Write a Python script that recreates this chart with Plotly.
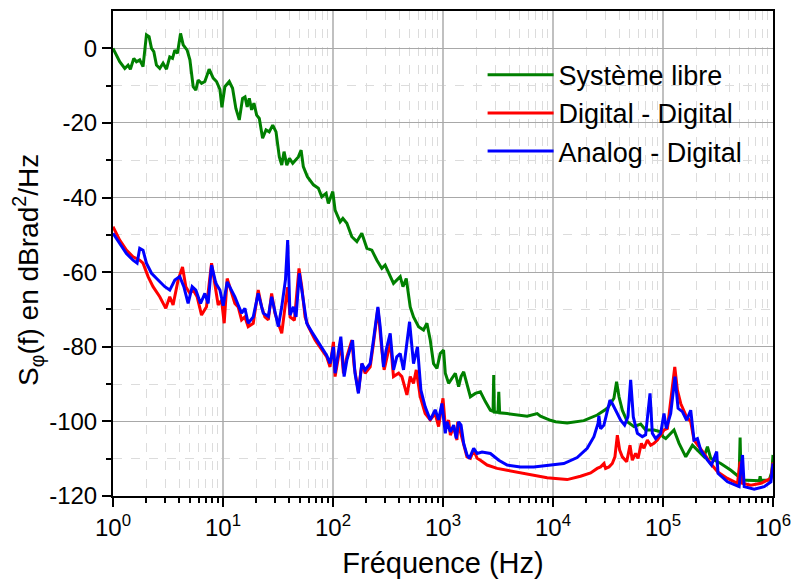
import numpy as np
import plotly.graph_objects as go

# ---- Data (frequency given as log10(Hz)) ----
libre_logf = [0, .061, .107, .137, .158, .189, .213, .243, .273, .304, .328, .35, .371, .395, .425, .455,
              .486, .516, .541, .562, .586, .614, .638, .674, .699, .729, .753, .774, .805, .835, .874, .911,
              .941, .972, .99, 1.017, 1.057, 1.087, 1.117, 1.148, 1.178, 1.2, 1.22, 1.239, 1.26, 1.281, 1.306,
              1.33, 1.36, 1.391, 1.42, 1.452, 1.482, 1.512, 1.534, 1.555, 1.58, 1.604, 1.634, 1.664, 1.685,
              1.71, 1.73, 1.767, 1.822, 1.867, 1.898, 1.937, 1.958, 1.998, 2.019, 2.065, 2.09, 2.126, 2.171,
              2.217, 2.262, 2.308, 2.353, 2.399, 2.444, 2.474, 2.514, 2.55, 2.611, 2.636, 2.666, 2.702, 2.732,
              2.778, 2.823, 2.854, 2.884, 2.914, 2.945, 2.975, 3.005, 3.021, 3.051, 3.082, 3.112, 3.142, 3.164,
              3.188, 3.218, 3.249, 3.294, 3.34, 3.385, 3.431, 3.455, 3.461, 3.467, 3.5, 3.507, 3.515, 3.583,
              3.674, 3.765, 3.856, 3.886, 3.977, 4.023, 4.129, 4.28, 4.402, 4.494, 4.554, 4.578, 4.6, 4.63,
              4.676, 4.736, 4.797, 4.842, 4.918, 4.979, 5.0, 5.025, 5.1, 5.146, 5.207, 5.268, 5.313, 5.373,
              5.404, 5.434, 5.525, 5.617, 5.692, 5.701, 5.71, 5.799, 5.876, 5.883, 5.89, 5.966, 5.99, 6.0]
libre_db = [0, -3.6, -5.4, -4.5, -5.6, -2.7, -3.6, -3.1, -4.9, 3.6, 3.1, 0, -0.9, -4.5, -5.4, -4.0,
            -5.6, -2.3, -2.7, -0.5, -1.3, 4.0, 0.9, -0.5, -3.1, -10.3, -11.2, -8.5, -9.4, -8.9, -5.6, -8.0,
            -8.9, -11.0, -15.8, -10.3, -8.9, -10.7, -16.1, -19.2, -13.4, -13.0, -15.7, -13.4, -16.5, -14.7, -17.9,
            -18.8, -24.1, -21.9, -22.4, -20.6, -22.4, -29.1, -31.3, -27.7, -31.3, -29.5, -30.8, -29.9, -29.1,
            -27.3, -31.7, -34.4, -36.6, -37.5, -39.8, -38.9, -41.6, -38.4, -43.4, -46.5, -45.6, -46.9, -50.5,
            -51.8, -49.6, -53.6, -54.1, -56.8, -59.0, -58.1, -60.8, -63.0, -61.2, -63.9, -61.7, -69.3, -72.0,
            -74.6, -75.5, -73.7, -78.2, -84.5, -85.8, -81.8, -80.9, -87.1, -89.8, -88.5, -87.1, -90.7, -88.0,
            -86.7, -89.8, -93.4, -92.5, -92.1, -94.7, -97.0, -97.3, -87.6, -97.5, -97.6, -92.1, -97.7, -97.9,
            -98.3, -98.6, -97.9, -98.6, -99.7, -100.1, -100.4, -99.8, -98.3, -96.5, -93.8, -89.4, -93.4, -97.0,
            -100.1, -101.4, -100.7, -102.3, -102.3, -102.8, -104.1, -104.6, -102.3, -105.9, -109.5, -106.4, -107.7, -109.5,
            -106.8, -109.9, -111.3, -113.1, -114.9, -104.3, -115.7, -115.7, -115.9, -114.7, -115.8, -115.7, -113.5, -109.0]

dd_logf = [0, .061, .122, .182, .243, .273, .319, .364, .425, .48, .516, .546, .592, .632, .662, .699,
           .729, .765, .805, .85, .896, .926, .956, .987, 1.011, 1.038, 1.078, 1.108, 1.138, 1.169, 1.199,
           1.229, 1.275, 1.32, 1.351, 1.381, 1.412, 1.442, 1.472, 1.503, 1.534, 1.564, 1.588, 1.61, 1.649,
           1.691, 1.716, 1.746, 1.776, 1.837, 1.898, 1.943, 1.973, 2.004, 2.019, 2.071, 2.095, 2.126, 2.171,
           2.193, 2.231, 2.262, 2.292, 2.338, 2.368, 2.408, 2.444, 2.465, 2.505, 2.52, 2.55, 2.596, 2.626,
           2.672, 2.702, 2.732, 2.757, 2.793, 2.838, 2.884, 2.929, 2.96, 3.0, 3.021, 3.051, 3.067, 3.097,
           3.127, 3.134, 3.182, 3.218, 3.249, 3.279, 3.31, 3.34, 3.401, 3.492, 3.583, 3.704, 3.825, 3.947,
           4.023, 4.129, 4.25, 4.342, 4.402, 4.433, 4.463, 4.478, 4.509, 4.539, 4.563, 4.585, 4.606, 4.63,
           4.67, 4.7, 4.721, 4.751, 4.773, 4.803, 4.827, 4.858, 4.888, 4.918, 4.949, 4.994, 5.01, 5.04,
           5.07, 5.107, 5.131, 5.161, 5.207, 5.252, 5.282, 5.328, 5.373, 5.434, 5.495, 5.586, 5.677, 5.701,
           5.722, 5.799, 5.89, 5.981, 6.0]
dd_db = [-47.8, -51.4, -54.1, -55.9, -56.8, -57.6, -61.2, -63.9, -66.6, -69.7, -66.6, -68.8, -62.1, -58.6, -63.9, -65.7,
         -64.8, -66.6, -71.5, -69.3, -57.6, -63.9, -68.8, -67.5, -73.7, -61.7, -65.7, -68.4, -69.3, -72.8, -72.0,
         -74.6, -73.7, -64.8, -69.3, -72.0, -72.8, -65.7, -71.0, -73.7, -76.4, -69.3, -64.0, -72.0, -72.9,
         -59.0, -63.9, -72.0, -74.6, -78.2, -80.9, -82.7, -85.4, -78.7, -88.0, -79.0, -87.1, -82.7, -78.2,
         -85.4, -92.1, -84.5, -87.1, -85.4, -79.1, -69.7, -80.9, -86.2, -80.9, -78.2, -88.0, -87.1, -88.0,
         -92.9, -88.0, -89.8, -86.2, -93.4, -97.9, -99.6, -97.9, -101.4, -93.8, -101.4, -99.7, -103.7, -101.4,
         -105.0, -100.1, -105.5, -109.5, -109.9, -107.7, -109.9, -110.4, -111.7, -112.6, -113.1, -113.8, -114.4, -115.1,
         -115.3, -115.6, -114.7, -113.8, -112.6, -112.2, -111.3, -112.6, -112.2, -111.3, -109.5, -103.7, -107.7, -109.5,
         -110.8, -106.4, -110.4, -108.6, -109.9, -105.9, -107.2, -105.0, -106.4, -105.9, -105.0, -103.2, -102.3, -101.9,
         -94.3, -85.4, -91.6, -95.2, -98.3, -100.1, -105.0, -106.8, -108.6, -111.3, -113.5, -115.3, -116.6, -110.8,
         -116.6, -117.1, -116.6, -115.3, -111.0]

ad_logf = [0, .061, .122, .182, .219, .243, .273, .304, .35, .41, .471, .516, .562, .607, .644, .683,
           .72, .753, .796, .835, .865, .896, .935, .972, 1.002, 1.038, 1.078, 1.108, 1.138, 1.169, 1.199,
           1.229, 1.275, 1.32, 1.366, 1.412, 1.442, 1.472, 1.503, 1.534, 1.568, 1.588, 1.604, 1.609, 1.64,
           1.664, 1.694, 1.73, 1.761, 1.807, 1.852, 1.898, 1.943, 1.973, 2.004, 2.019, 2.071, 2.101, 2.126,
           2.178, 2.2, 2.231, 2.262, 2.292, 2.338, 2.368, 2.408, 2.429, 2.459, 2.483, 2.52, 2.55, 2.58,
           2.611, 2.641, 2.696, 2.732, 2.768, 2.799, 2.838, 2.884, 2.929, 2.96, 2.99, 3.021, 3.036, 3.067,
           3.097, 3.121, 3.142, 3.164, 3.188, 3.218, 3.24, 3.279, 3.31, 3.355, 3.431, 3.507, 3.583, 3.704,
           3.825, 3.947, 4.023, 4.098, 4.22, 4.311, 4.372, 4.41, 4.417, 4.433, 4.463, 4.494, 4.518, 4.539,
           4.569, 4.615, 4.651, 4.681, 4.706, 4.73, 4.767, 4.812, 4.842, 4.882, 4.903, 4.933, 4.979, 5.009,
           5.03, 5.07, 5.109, 5.137, 5.176, 5.215, 5.252, 5.282, 5.313, 5.343, 5.404, 5.44, 5.488, 5.5,
           5.586, 5.692, 5.723, 5.738, 5.829, 5.92, 5.981, 6.0]
ad_db = [-49.6, -52.3, -55.0, -56.8, -57.6, -53.6, -54.1, -57.6, -60.3, -62.1, -63.9, -64.8, -62.1, -61.2, -63.9, -68.4,
         -63.9, -64.8, -68.4, -65.7, -68.4, -58.1, -63.0, -64.8, -69.0, -62.6, -64.8, -66.6, -68.8, -71.0, -69.7,
         -73.7, -72.0, -65.7, -71.0, -71.9, -66.6, -71.0, -74.6, -69.3, -62.0, -51.4, -68.0, -71.5, -69.3,
         -72.0, -60.3, -67.5, -73.7, -76.0, -78.2, -80.4, -82.3, -84.5, -80.0, -87.1, -77.3, -88.0, -83.6,
         -78.2, -87.1, -92.5, -84.5, -86.2, -84.5, -78.2, -69.3, -74.6, -85.4, -80.9, -76.4, -86.2, -82.7,
         -81.8, -86.2, -73.3, -84.5, -80.0, -91.6, -96.1, -99.6, -96.9, -99.6, -95.2, -103.2, -100.1, -102.8,
         -101.0, -104.6, -100.1, -101.0, -105.9, -109.0, -109.9, -107.2, -108.6, -108.2, -108.6, -110.4, -111.7, -112.2,
         -112.2, -111.8, -111.5, -111.3, -109.7, -107.2, -104.1, -100.5, -98.5, -102.0, -101.0, -97.4, -94.3, -95.2,
         -97.0, -99.7, -101.0, -98.8, -88.9, -98.8, -103.2, -104.1, -103.6, -92.5, -103.2, -104.6, -103.2, -97.9,
         -101.9, -97.9, -88.0, -96.5, -97.4, -99.7, -97.0, -105.0, -104.6, -107.7, -110.4, -111.7, -108.1, -113.9,
         -116.2, -117.5, -109.0, -117.5, -118.2, -117.5, -116.2, -111.3]

series_names = ["Système libre", "Digital - Digital", "Analog - Digital"]
series_colors = ["#008000", "#ff0000", "#0000ff"]

x_tick_vals = [1, 10, 100, 1000, 10000, 100000, 1000000]
x_tick_text = ["10<sup>0</sup>", "10<sup>1</sup>", "10<sup>2</sup>", "10<sup>3</sup>",
               "10<sup>4</sup>", "10<sup>5</sup>", "10<sup>6</sup>"]
x_minor_vals = [m * d for d in [1, 10, 100, 1000, 10000, 100000] for m in range(2, 10)]
y_tick_vals = [-120, -100, -80, -60, -40, -20, 0]
y_tick_text = ["-120", "-100", "-80", "-60", "-40", "-20", "0"]
y_minor_vals = [-110, -90, -70, -50, -30, -10]
y_title = "S<sub>φ</sub>(f) en dBrad<sup>2</sup>/Hz"

FONT = "Liberation Sans, Arial, sans-serif"

fig = go.Figure()
for i, (lf, db) in enumerate([(libre_logf, libre_db), (dd_logf, dd_db), (ad_logf, ad_db)]):
    fig.add_trace(go.Scatter(
        x=10 ** np.array(lf), y=db, mode="lines", name=series_names[i],
        line=dict(color=series_colors[i], width=3)))

grid_minor = dict(showgrid=True, gridcolor="#dcdcdc", griddash="dash", gridwidth=1,
                  ticks="outside", ticklen=5, tickwidth=2, tickcolor="black")

fig.update_layout(
    width=793, height=579,
    margin=dict(l=113, r=20, t=11, b=83),
    paper_bgcolor="white", plot_bgcolor="white",
    font=dict(family=FONT, color="black"),
    showlegend=True,
    legend=dict(x=0.56, y=0.918, xanchor="left", yanchor="top",
                bgcolor="rgba(0,0,0,0)", font=dict(size=27, family=FONT),
                itemwidth=66, tracegroupgap=0),
    xaxis=dict(type="log", range=[0, 6], tickvals=x_tick_vals, ticktext=x_tick_text,
               ticks="outside", ticklen=9, tickwidth=2, tickcolor="black",
               showline=True, linecolor="black", linewidth=2, mirror=True,
               showgrid=True, gridcolor="#c0c0c0", gridwidth=1.5,
               minor=dict(tickvals=x_minor_vals, **grid_minor),
               tickfont=dict(size=24, family=FONT), automargin=False,
               title=dict(text="Fréquence (Hz)", font=dict(size=29, family=FONT), standoff=14),
               zeroline=False),
    yaxis=dict(range=[-120, 10], tickvals=y_tick_vals, ticktext=y_tick_text,
               ticks="outside", ticklen=9, tickwidth=2, tickcolor="black",
               showline=True, linecolor="black", linewidth=2, mirror=True,
               showgrid=True, gridcolor="#a8a8a8", gridwidth=1,
               minor=dict(tickvals=y_minor_vals, **grid_minor),
               tickfont=dict(size=24, family=FONT), automargin=False,
               zeroline=False),
    xaxis2=dict(type="log", range=[0, 6], overlaying="x", side="top", anchor="y",
                tickvals=x_tick_vals, ticks="inside", ticklen=9, tickwidth=2, tickcolor="black",
                showticklabels=False, showgrid=False, showline=False, zeroline=False),
    yaxis2=dict(range=[-120, 10], overlaying="y", side="right", anchor="x",
                tickvals=y_tick_vals, ticks="inside", ticklen=10, tickwidth=2, tickcolor="black",
                showticklabels=False, showgrid=False, showline=False, zeroline=False),
)

# y-axis title placed as a rotated annotation (reference title is centred slightly below mid-axis)
fig.add_annotation(text=y_title, xref="paper", yref="paper", x=-0.128, y=0.465,
                   xanchor="center", yanchor="middle", textangle=-90, showarrow=False,
                   font=dict(size=28, family=FONT, color="black"))

fig.write_html("out.html", config={"displayModeBar": False},
               post_script="document.body.style.margin='0px';")
